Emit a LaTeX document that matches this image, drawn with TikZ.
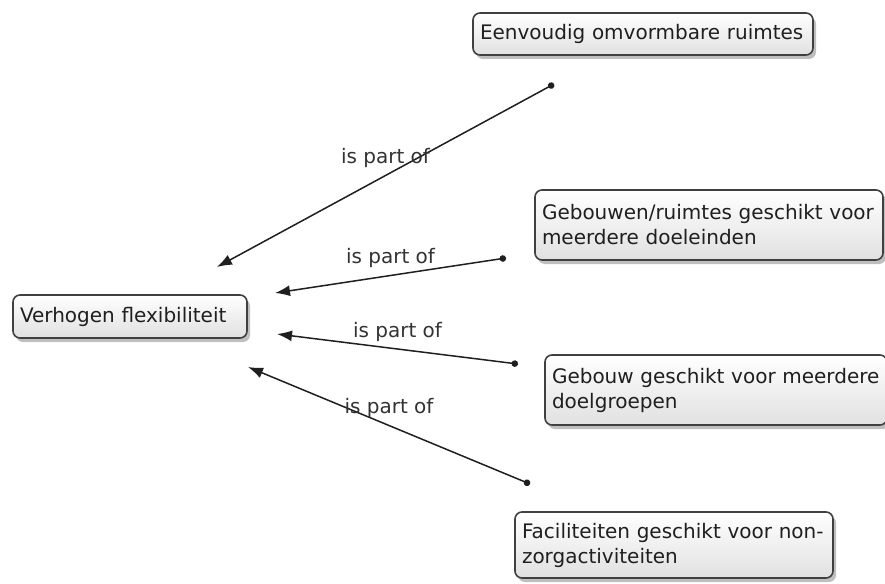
\documentclass[tikz,border=0pt]{standalone}
\usepackage{fontspec}
\newfontfamily\mapfont{DejaVu Sans}
\usetikzlibrary{arrows.meta,shadows}

\tikzset{
  concept/.style={draw=black!75, line width=1.6pt, rounded corners=7pt,
    top color=white, bottom color=black!12, text=black!88,
    font=\mapfont\fontsize{20}{25}\selectfont, align=left,
    inner xsep=7pt, inner ysep=4pt,
    drop shadow={shadow xshift=3pt, shadow yshift=-4pt, opacity=0.5}},
  link/.style={line width=1.5pt, draw=black!88,
    {Circle[length=6.5pt]}-{Latex[length=15pt,width=11pt]}},
  linklabel/.style={font=\mapfont\fontsize{20}{25}\selectfont, text=black!80,
    inner sep=0pt, above=7pt}
}

\begin{document}
\begin{tikzpicture}[x=1pt,y=-1pt]
    \useasboundingbox (0,0) rectangle (885,583);

    % Central concept.
    \node[concept, text width=220pt, minimum height=43pt] (verhogen) at (130,316.5) {Verhogen flexibiliteit};

    % Sub concepts.
    \node[concept, text width=326pt, minimum height=42pt] (omvormbaar) at (643,34) {Eenvoudig omvormbare ruimtes};
    \node[concept, text width=334pt, minimum height=70pt] (doeleinden) at (709,225) {Gebouwen/ruimtes geschikt voor\\meerdere doeleinden};
    \node[concept, text width=328pt, minimum height=70pt] (doelgroepen) at (716,390) {Gebouw geschikt voor meerdere\\doelgroepen};
    \node[concept, text width=304pt, minimum height=66pt] (faciliteiten) at (674,545) {Faciliteiten geschikt voor non-\\zorgactiviteiten};

    % Link ends.
    \coordinate (omvormbaar-end) at (554,84);
    \coordinate (doeleinden-end) at (506,258);
    \coordinate (doelgroepen-end) at (518,364);
    \coordinate (faciliteiten-end) at (530,484);
    \coordinate (verhogen-in1) at (217,267);
    \coordinate (verhogen-in2) at (275,293);
    \coordinate (verhogen-in3) at (277,334);
    \coordinate (verhogen-in4) at (248,367);

    % All links.
    \draw[link] (omvormbaar-end) -- (verhogen-in1) node[linklabel, midway] {is part of};
    \draw[link] (doeleinden-end) -- (verhogen-in2) node[linklabel, midway] {is part of};
    \draw[link] (doelgroepen-end) -- (verhogen-in3) node[linklabel, midway] {is part of};
    \draw[link] (faciliteiten-end) -- (verhogen-in4) node[linklabel, midway] {is part of};
\end{tikzpicture}
\end{document}
